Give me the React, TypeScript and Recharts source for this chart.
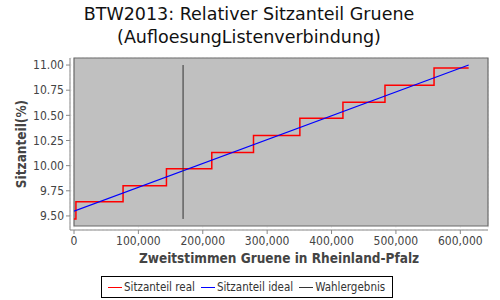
import { LineChart, Line, XAxis, YAxis, CartesianGrid, ReferenceArea } from 'recharts';

const FONT = '"DejaVu Sans Condensed", "DejaVu Sans", sans-serif';
const TITLE_FONT = '"DejaVu Sans", sans-serif';

// seat share steps (real), ideal proportional line, election result marker
const realVotes = [0, 3000, 76200, 143600, 214000, 278800, 350800, 417700, 483000, 559200, 613000];
const realShare = [9.47, 9.64, 9.8, 9.97, 10.13, 10.3, 10.47, 10.63, 10.8, 10.97, 10.97];
const idealVotes = [0, 613000];
const idealShare = [9.547, 11.0];
const resultVotes = [169400, 169400];
const resultShare = [9.47, 11.0];

const xTicks = [0, 100000, 200000, 300000, 400000, 500000, 600000];
const yTicks = [9.5, 9.75, 10.0, 10.25, 10.5, 10.75, 11.0];
const xDomain = [0, 643000];
const yDomain = [9.4, 11.07];

const legendItems = [
  { name: 'Sitzanteil real', color: '#ff0000' },
  { name: 'Sitzanteil ideal', color: '#0000ff' },
  { name: 'Wahlergebnis', color: '#333333' },
];

const toRows = (xs: number[], ys: number[]) => xs.map((x, i) => ({ x, y: ys[i] }));

const realData = toRows(realVotes, realShare);
const idealData = toRows(idealVotes, idealShare);
const resultData = toRows(resultVotes, resultShare);

const labelStyle = { fill: '#444', fontSize: 13.5, fontWeight: 'bold' as const, fontFamily: FONT };

function YLabel({ viewBox }: any) {
  const cx = viewBox.x + 21;
  const cy = viewBox.y + viewBox.height / 2;
  return (
    <text x={cx} y={cy} transform={`rotate(-90, ${cx}, ${cy})`} textAnchor="middle" dominantBaseline="central" {...labelStyle}>
      Sitzanteil(%)
    </text>
  );
}

function XLabel({ viewBox }: any) {
  const cx = viewBox.x + viewBox.width / 2;
  return (
    <text x={cx} y={263} textAnchor="middle" {...labelStyle}>
      Zweitstimmen Gruene in Rheinland-Pfalz
    </text>
  );
}

export default function App() {
  return (
    <div style={{ position: 'absolute', left: 0, top: 0, width: 500, height: 300, background: '#fff', fontFamily: FONT }}>
      <div style={{ position: 'absolute', left: 0, top: 3, width: 498, textAlign: 'center', fontSize: 17.5, lineHeight: '23px', color: '#111', fontFamily: TITLE_FONT, whiteSpace: 'nowrap' }}>
        <div>BTW2013: Relativer Sitzanteil Gruene</div>
        <div>(AufloesungListenverbindung)</div>
      </div>
      <LineChart width={500} height={300} margin={{ top: 58, right: 12, left: 0, bottom: 30 }}>
        <ReferenceArea x1={xDomain[0]} x2={xDomain[1]} y1={yDomain[0]} y2={yDomain[1]} fill="#c0c0c0" fillOpacity={1} stroke="#6a6a6a" strokeWidth={1.2} />
        <CartesianGrid stroke="#eeeeee" strokeDasharray="2 2" fill="none" />
        <XAxis
          type="number"
          dataKey="x"
          domain={xDomain}
          ticks={xTicks}
          allowDataOverflow
          padding={{ left: 4, right: 0 }}
          height={40}
          tickSize={4}
          tickMargin={2}
          stroke="#888"
          tick={{ fill: '#444', fontSize: 12, fontFamily: FONT }}
          tickFormatter={(v: number) => v.toLocaleString('en-US')}
          label={<XLabel />}
        />
        <YAxis
          type="number"
          dataKey="y"
          domain={yDomain}
          ticks={yTicks}
          allowDataOverflow
          padding={{ top: 0, bottom: 4 }}
          width={70}
          tickSize={4}
          tickMargin={2}
          stroke="#888"
          tick={{ fill: '#444', fontSize: 12, fontFamily: FONT }}
          tickFormatter={(v: number) => v.toFixed(2)}
          label={<YLabel />}
        />
        <Line data={realData} dataKey="y" type="stepAfter" stroke="#ff0000" strokeWidth={1.5} dot={false} isAnimationActive={false} />
        <Line data={idealData} dataKey="y" type="linear" stroke="#0000ff" strokeWidth={1.2} dot={false} isAnimationActive={false} />
        <Line data={resultData} dataKey="y" type="linear" stroke="#333333" strokeWidth={1} dot={false} isAnimationActive={false} />
      </LineChart>
      <div style={{ position: 'absolute', left: 101, top: 276, width: 292, height: 22, border: '1px solid #000', boxSizing: 'border-box', display: 'flex', alignItems: 'center', paddingLeft: 6, fontSize: 11.5, color: '#333', whiteSpace: 'nowrap' }}>
        {legendItems.map((it) => (
          <span key={it.name} style={{ display: 'flex', alignItems: 'center', marginRight: 6 }}>
            <span style={{ display: 'inline-block', width: 14, height: 1, background: it.color, marginRight: 2 }} />
            {it.name}
          </span>
        ))}
      </div>
    </div>
  );
}
